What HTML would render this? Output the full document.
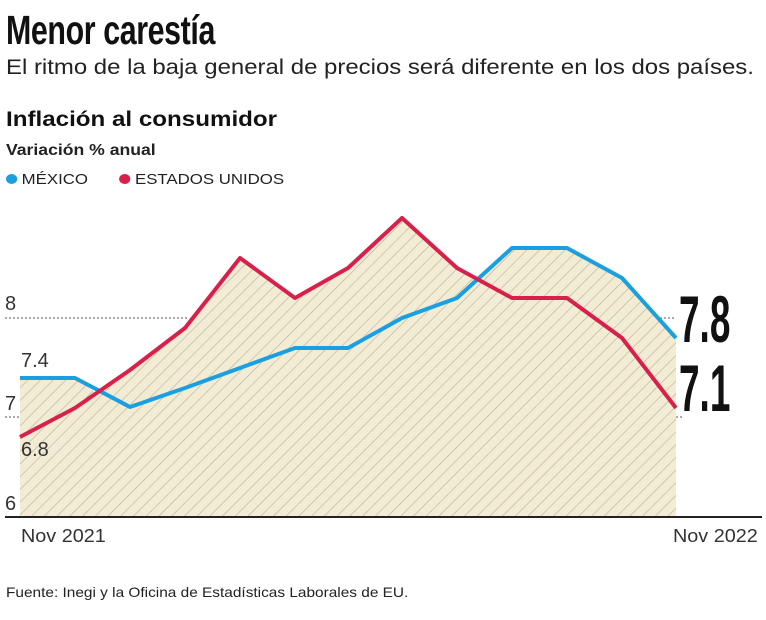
<!DOCTYPE html>
<html><head><meta charset="utf-8"><style>
body{margin:0;width:766px;height:620px;background:#fff;overflow:hidden;font-family:"Liberation Sans",sans-serif;color:#111}
.t{position:absolute;white-space:nowrap;transform-origin:left top}
</style></head><body>
<div class="t" style="left:6px;top:7px;font-size:41px;font-weight:bold;transform:scaleX(0.74);letter-spacing:-0.5px">Menor carestía</div>
<div class="t" style="left:6px;top:56px;font-size:21px;color:#222;transform:scaleX(1.14)">El ritmo de la baja general de precios será diferente en los dos países.</div>
<div class="t" style="left:6px;top:108px;font-size:21px;font-weight:bold;transform:scaleX(1.15)">Inflación al consumidor</div>
<div class="t" style="left:6px;top:142px;font-size:16px;font-weight:bold;color:#222;transform:scaleX(1.1)">Variación % anual</div>
<div class="t" style="left:6px;top:171px;font-size:15px;color:#222;transform:scaleX(1.12)"><span style="display:inline-block;width:10px;height:10px;border-radius:50%;background:#1aa0e0;margin-right:4px"></span>MÉXICO<span style="display:inline-block;width:10px;height:10px;border-radius:50%;background:#d8204a;margin:0 4px 0 28px"></span>ESTADOS UNIDOS</div>
<svg class="t" style="left:0;top:0" width="766" height="620">
<defs><pattern id="h" width="9" height="9" patternUnits="userSpaceOnUse" patternTransform="rotate(45)"><rect width="9" height="9" fill="#f3ecd4"/><line x1="0" y1="0" x2="0" y2="9" stroke="#b8b09a" stroke-width="1.2"/></pattern></defs>
<polygon fill="url(#h)" points="20,517 20,378 75,378 97,394 130,370 185,328 240,258 295,298 348,268 402,218 457,268 480,280 512,248 567,248 622,278 676,338 676,517"/>
<g stroke="#555" stroke-dasharray="2,2" stroke-width="1"><line x1="5" y1="318" x2="188" y2="318"/><line x1="5" y1="417" x2="20" y2="417"/><line x1="660" y1="318" x2="676" y2="318"/><line x1="676" y1="417" x2="682" y2="417"/></g>
<polyline fill="none" stroke="#1aa0e0" stroke-width="4" stroke-linejoin="round" points="20,378 75,378 130,407 185,388 240,368 295,348 348,348 402,318 457,298 512,248 567,248 622,278 676,338"/>
<polyline fill="none" stroke="#d8204a" stroke-width="4" stroke-linejoin="round" points="20,437 75,408 130,370 185,328 240,258 295,298 348,268 402,218 457,268 512,298 567,298 622,338 676,408"/>
<line x1="5" y1="517" x2="762" y2="517" stroke="#222" stroke-width="2"/>
</svg>
<div class="t" style="left:5px;top:293px;font-size:20px;color:#333">8</div>
<div class="t" style="left:5px;top:393px;font-size:20px;color:#333">7</div>
<div class="t" style="left:5px;top:493px;font-size:20px;color:#333">6</div>
<div class="t" style="left:21px;top:350px;font-size:20px;color:#333">7.4</div>
<div class="t" style="left:21px;top:439px;font-size:20px;color:#333">6.8</div>
<div class="t" style="left:21px;top:526px;font-size:18px;color:#333;transform:scaleX(1.1)">Nov 2021</div>
<div class="t" style="left:673px;top:526px;font-size:18px;color:#333;transform:scaleX(1.1)">Nov 2022</div>
<div class="t" style="left:679px;top:281px;font-size:66px;font-weight:bold;transform:scaleX(0.56);color:#111">7.8</div>
<div class="t" style="left:679px;top:350px;font-size:66px;font-weight:bold;transform:scaleX(0.56);color:#111">7.1</div>
<div class="t" style="left:6px;top:584px;font-size:14px;color:#222;transform:scaleX(1.1)">Fuente: Inegi y la Oficina de Estadísticas Laborales de EU.</div>
</body></html>
